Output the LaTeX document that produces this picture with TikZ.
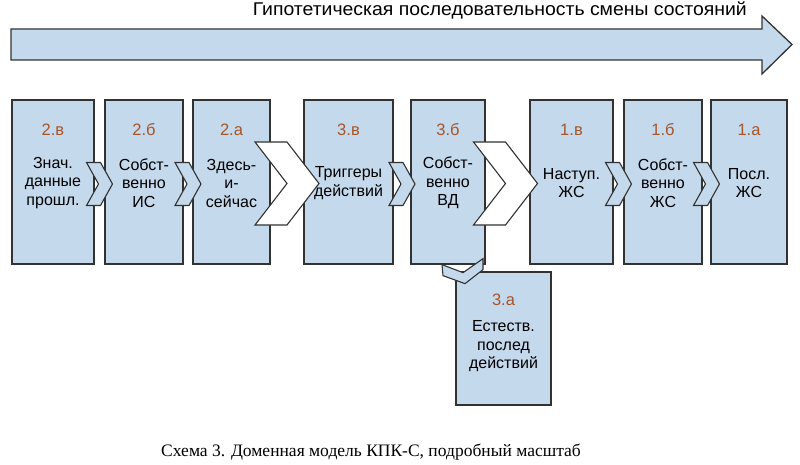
\documentclass[tikz,border=0pt]{standalone}
\usepackage{fontspec}
\setmainfont{Liberation Serif}
\newfontfamily\arialf{Liberation Sans}
\usetikzlibrary{calc}
\definecolor{boxfill}{RGB}{197,217,236}
\definecolor{edgecol}{RGB}{50,50,50}
\definecolor{numcol}{RGB}{165,85,40}
\tikzset{
  box/.style={draw=edgecol, fill=boxfill, line width=1.3pt, inner sep=0pt, minimum height=164pt},
  num/.style={font=\arialf\fontsize{16.5}{18}\selectfont, text=numcol, inner sep=0pt},
  txt/.style={font=\arialf\fontsize{16}{18.5}\selectfont, align=center, inner sep=0pt},
  chevline/.style={draw=edgecol, line width=1.1pt, line join=miter},
  smallchev/.pic={\path[chevline, fill=boxfill] (-13,-21.5) -- (1,-21.5) -- (13,0) -- (1,21.5) -- (-13,21.5) -- (-1,0) -- cycle;},
  bigchev/.pic={\path[chevline, fill=white] (-32,-41.5) -- (0,-41.5) -- (32,0) -- (0,41.5) -- (-32,41.5) -- (0,0) -- cycle;},
  downchev/.pic={\path[chevline, fill=boxfill] (-21,-6) -- (0,2) -- (20,-12) -- (20,-1) -- (2,13) -- (-20,5) -- cycle;},
}
\begin{document}
\begin{tikzpicture}[x=1pt,y=-1pt]
\useasboundingbox (0,0) rectangle (800,465);
% title arrow
\path[draw=edgecol, fill=boxfill, line width=1.3pt, line join=miter]
  (11,29) -- (762,29) -- (762,16) -- (792,44.5) -- (762,74) -- (762,60) -- (11,60) -- cycle;
\node[anchor=base east, inner sep=0pt, font=\arialf\fontsize{18.5}{20}\selectfont] (title) at (747,16)
  {\resizebox{494pt}{\height}{Гипотетическая последовательность смены состояний}};
% boxes
\node[box, minimum width=82pt] (b1) at (53,182) {};
\node[box, minimum width=78pt] (b2) at (144,182) {};
\node[box, minimum width=77pt] (b3) at (231.5,182) {};
\node[box, minimum width=89pt] (b4) at (348.5,182) {};
\node[box, minimum width=74pt] (b5) at (448,182) {};
\node[box, minimum width=83pt] (b6) at (571.5,182) {};
\node[box, minimum width=78pt] (b7) at (663,182) {};
\node[box, minimum width=76pt] (b8) at (749,182) {};
\node[box, minimum width=95pt, minimum height=133pt] (b9) at (503.5,338.5) {};
% labels
\foreach \b/\n in {b1/2.в, b2/2.б, b3/2.а, b4/3.в, b5/3.б, b6/1.в, b7/1.б, b8/1.а}{
  \node[num] (\b n) at ($(\b.center)+(0,-52)$) {\n};
}
\node[txt] (b1t) at ($(b1.center)+(0,1)$) {Знач.\\данные\\прошл.};
\node[txt] (b2t) at ($(b2.center)+(0,1)$) {Собст-\\венно\\ИС};
\node[txt] (b3t) at ($(b3.center)+(0,1)$) {Здесь-\\и-\\сейчас};
\node[txt] (b4t) at ($(b4.center)+(0,1)$) {Триггеры\\действий};
\node[txt] (b5t) at ($(b5.center)+(0,1)$) {Собст-\\венно\\ВД};
\node[txt] (b6t) at ($(b6.center)+(0,1)$) {Наступ.\\ЖС};
\node[txt] (b7t) at ($(b7.center)+(0,1)$) {Собст-\\венно\\ЖС};
\node[txt] (b8t) at ($(b8.center)+(0,1)$) {Посл.\\ЖС};
\node[num] (b9n) at ($(b9.north)+(0,28)$) {3.а};
\node[txt] (b9t) at ($(b9.north)+(0,75)$) {Естеств.\\послед\\действий};
% chevrons
\pic at ($(b1.east)!0.5!(b2.west)+(0,2)$) {smallchev};
\pic at ($(b2.east)!0.5!(b3.west)+(0,2)$) {smallchev};
\pic at ($(b3.east)!0.5!(b4.west)+(0,1.5)$) {bigchev};
\pic at ($(b4.east)!0.5!(b5.west)+(0,2)$) {smallchev};
\pic at ($(b5.east)!0.5!(b6.west)+(-2,1.5)$) {bigchev};
\pic at ($(b6.east)!0.5!(b7.west)+(0,2)$) {smallchev};
\pic at ($(b7.east)!0.5!(b8.west)+(0,2)$) {smallchev};
\coordinate (dc) at ($(b5.south)+(15,6)$);
\pic at (dc) {downchev};
% caption
\node[anchor=base, inner sep=0pt, font=\fontsize{17.5}{20}\selectfont] (cap) at (371,456.5)
  {Схема 3. Доменная модель КПК-С, подробный масштаб};
\end{tikzpicture}
\end{document}
